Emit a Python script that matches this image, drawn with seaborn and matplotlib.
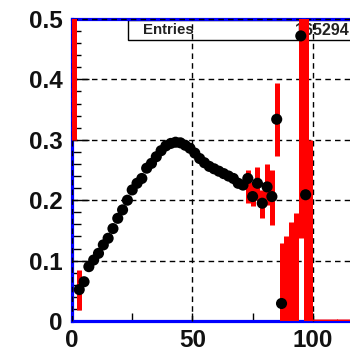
import numpy as np
import pandas as pd
import matplotlib
matplotlib.use("Agg")
import matplotlib.pyplot as plt
import seaborn as sns
from matplotlib.ticker import FixedLocator
from matplotlib.patches import Rectangle

sns.set_style("white")
plt.rcParams['font.family'] = ['Liberation Sans', 'DejaVu Sans']

# ---- data (profile: bin centres and mean values with visible markers) ----
prof_x = [3, 5, 7, 9, 11, 13, 15, 17, 19, 21, 23, 25, 27, 29, 31, 33, 35, 37, 39,
          41, 43, 45, 47, 49, 51, 53, 55, 57, 59, 61, 63, 65, 67, 69, 71,
          73, 75, 77, 79, 81, 83, 85, 87, 95, 97]
prof_y = [0.052, 0.065, 0.090, 0.101, 0.112, 0.126, 0.137, 0.153, 0.170, 0.184,
          0.200, 0.217, 0.228, 0.236, 0.253, 0.261, 0.272, 0.282, 0.290,
          0.294, 0.296, 0.295, 0.291, 0.286, 0.278, 0.269, 0.262, 0.256, 0.252,
          0.248, 0.244, 0.240, 0.236, 0.228, 0.225,
          0.236, 0.206, 0.228, 0.195, 0.222, 0.206, 0.334, 0.029, 0.472, 0.209]

# ---- error bars (bin centre, lower end, upper end) ----
err_x = [1, 3, 73, 75, 77, 79, 81, 83, 85, 87, 89, 91, 93, 95, 97, 99,
         101, 103, 105, 107, 109, 111, 113, 115, 117, 119]
err_lo = [0.30, 0.018, 0.195, 0.190, 0.200, 0.171, 0.192, 0.159, 0.273, -0.07,
          -0.05, -0.05, -0.05, 0.137, -0.10, -0.05,
          0.0, 0.0, 0.0, 0.0, 0.0, 0.0, 0.0, 0.0, 0.0, 0.0]
err_hi = [0.65, 0.084, 0.250, 0.230, 0.255, 0.217, 0.260, 0.250, 0.394, 0.129,
          0.140, 0.164, 0.179, 0.65, 0.65, 0.30,
          0.004, 0.004, 0.004, 0.004, 0.004, 0.004, 0.004, 0.004, 0.004, 0.004]

x_major = [0, 50, 100]
x_minor = [25, 75]
y_major = [0.0, 0.1, 0.2, 0.3, 0.4, 0.5]
y_labels = ["0", "0.1", "0.2", "0.3", "0.4", "0.5"]
y_minor = [0.02, 0.04, 0.06, 0.08, 0.12, 0.14, 0.16, 0.18, 0.22, 0.24, 0.26, 0.28,
           0.32, 0.34, 0.36, 0.38, 0.42, 0.44, 0.46, 0.48]
stats_label = "Entries"
stats_value = "165294"

df = pd.DataFrame({"x": prof_x, "y": prof_y})

fig = plt.figure(figsize=(3.5, 3.55), dpi=100)
ax = fig.add_axes([72 / 350, 34 / 355, 289 / 350, 302 / 355])
ax.set_xlim(0, 120)
ax.set_ylim(0, 0.5)

# stats box (under grid and data)
ax.add_patch(Rectangle((23.2, 0.465), 120, 0.033, facecolor="white",
                       edgecolor="black", linewidth=1.0, zorder=1, clip_on=False))
ax.text(29.5, 0.481, stats_label, fontsize=10.8, fontweight="bold",
        va="center", ha="left", zorder=1.1, color="#222222")
ax.text(115.0, 0.481, stats_value, fontsize=11.5, fontweight="bold",
        va="center", ha="right", zorder=1.1, color="#222222")

# grid (dashed black)
for yv in y_major[1:]:
    ax.axhline(yv, color="black", lw=1.0, ls=(0, (4, 3)), zorder=2.6, clip_on=False)
for xv in x_major:
    ax.axvline(xv, color="black", lw=1.0, ls=(0, (4, 3)), zorder=2.6, clip_on=False)

# error bars
ax.vlines(err_x, err_lo, err_hi, colors="red", linewidth=3.6, zorder=3)

# markers
sns.scatterplot(data=df, x="x", y="y", ax=ax, color="black", s=64,
                edgecolor="none", linewidth=0, zorder=4, legend=False)

ax.set_xlabel("")
ax.set_ylabel("")

for side in ["left", "bottom", "top", "right"]:
    ax.spines[side].set_color("blue")
    ax.spines[side].set_linewidth(2.3)
    ax.spines[side].set_zorder(2.5)

ax.xaxis.set_major_locator(FixedLocator(x_major))
ax.xaxis.set_minor_locator(FixedLocator(x_minor))
ax.yaxis.set_major_locator(FixedLocator(y_major))
ax.yaxis.set_minor_locator(FixedLocator(y_minor))
ax.set_xticklabels([str(v) for v in x_major])
ax.set_yticklabels(y_labels)

ax.tick_params(axis="x", which="major", direction="in", length=6, width=1,
               color="black", labelsize=17.5, pad=6, bottom=True, top=False)
ax.tick_params(axis="x", which="minor", direction="in", length=6, width=1,
               color="black", bottom=True, top=False)
ax.tick_params(axis="y", which="major", direction="in", length=12, width=1,
               color="black", labelsize=17.5, pad=7, left=True, right=False)
ax.tick_params(axis="y", which="minor", direction="in", length=6.5, width=1,
               color="black", left=True, right=False)
for lab in ax.get_xticklabels() + ax.get_yticklabels():
    lab.set_fontweight("bold")
    lab.set_color("#111111")

fig.savefig("out.png", dpi=100)
